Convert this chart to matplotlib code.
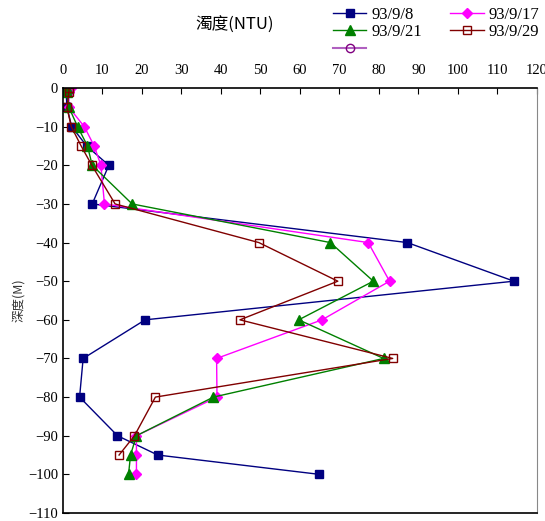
import numpy as np
import matplotlib
matplotlib.use('Agg')
import matplotlib.pyplot as plt
from matplotlib.lines import Line2D

plt.rcParams['font.family'] = ['Liberation Serif', 'Noto Sans CJK TC']

# depth (m) and turbidity (NTU) per sampling date
depth = [0, -1, -5, -10, -15, -20, -30, -40, -50, -60, -70, -80, -90, -95, -100]
ntu_0908 = [0.5, 0.8, 1.0, 2.2, 6.0, 11.6, 7.4, 87.2, 114.2, 20.8, 5.1, 4.2, 13.8, 24.0, 64.9]
ntu_0917 = [2.0, 1.5, 1.5, 5.4, 7.9, 9.6, 10.5, 77.3, 82.7, 65.6, 38.9, 39.0, 18.6, 18.6, 18.6]
ntu_0921 = [1.0, 1.0, 1.5, 3.7, 6.2, 7.4, 17.5, 67.7, 78.6, 59.7, 81.2, 38.1, 18.6, 17.1, 16.6]
depth_0929 = [0, -1, -5, -10, -15, -20, -30, -40, -50, -60, -70, -80, -90, -95]
ntu_0929 = [1.5, 1.5, 1.0, 2.1, 4.6, 7.3, 13.2, 49.6, 69.6, 44.8, 83.5, 23.4, 18.1, 14.2]

fig = plt.figure(figsize=(5.45, 5.21), dpi=100)
ax = fig.add_axes([0.1156, 0.0154, 0.8694, 0.8156])

l1, = ax.plot(ntu_0908, depth, '-s', color='#000080', lw=1, ms=6, label='93/9/8')
l2, = ax.plot(ntu_0917, depth, '-D', color='#FF00FF', lw=1, ms=5, label='93/9/17')
l3, = ax.plot(ntu_0921, depth, '-^', color='#008000', lw=1, ms=7, label='93/9/21')
l4, = ax.plot(ntu_0929, depth_0929, '-s', color='#800000', lw=1, ms=6,
              mfc='none', label='93/9/29')
l5 = Line2D([], [], color='#B060C0', lw=1.5, marker='o', ms=6, mfc='none',
            mec='#800080', label=' ')

ax.set_xlim(0, 120)
ax.set_ylim(-110, 0)
ax.set_xticks(np.arange(0, 121, 10))
ax.set_yticks(np.arange(-110, 1, 10))
ax.xaxis.tick_top()
ax.tick_params(direction='in', labelsize=10.5, length=4)
ax.tick_params(axis='x', pad=8)
for s in ax.spines.values():
    s.set_linewidth(1.2)
ax.spines['right'].set_color('#888888')
ax.spines['right'].set_linewidth(0.8)

fig.text(0.035, 0.424, '深度(M)', rotation=90, va='center', ha='center',
         fontsize=9, family=['Noto Sans CJK TC'], color='#333333')
fig.text(0.43, 0.952, '濁度(NTU)', va='center', ha='center',
         fontsize=12, family=['Noto Sans CJK TC'])

fig.legend(handles=[l1, l3, l5, l2, l4], ncol=2, loc='upper left',
           bbox_to_anchor=(333 / 545, 1 - 7 / 521), frameon=False, fontsize=12,
           handlelength=2.0, handletextpad=0.3, columnspacing=1.7,
           labelspacing=0.08, borderpad=0.0, borderaxespad=0.0)

fig.savefig('out.png', dpi=100)
